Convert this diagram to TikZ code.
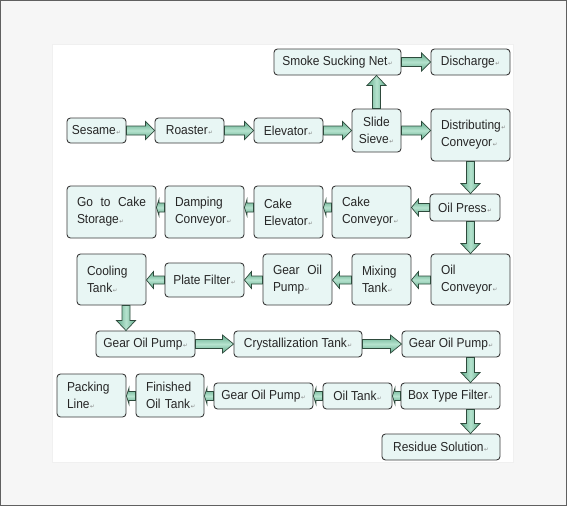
\documentclass[tikz,border=0pt]{standalone}
\usepackage{fontspec}
\setmainfont{Liberation Sans}[FakeStretch=0.92]
\newfontfamily\symfont{DejaVu Sans}
\usetikzlibrary{calc}
\definecolor{boxfill}{HTML}{E8F6F4}
\definecolor{boxline}{HTML}{3A3A3A}
\definecolor{arrdark}{HTML}{5FAA89}
\definecolor{arrlight}{HTML}{B6E3CF}
\definecolor{arrline}{HTML}{2E4A3C}
\definecolor{outbg}{HTML}{F6F6F6}
\newcommand\rt{\kern0.6pt{\symfont\fontsize{5.5}{5.5}\selectfont\textcolor{gray}{↵}}}
% horizontal block arrow: from, to, sign (+1 right / -1 left), head length, head half-width, shaft half-width
\newcommand\harrow[6]{%
  \draw[arrstyle, top color=arrdark, bottom color=arrdark, middle color=arrlight]
  let \p1=(#1), \p2=(#2) in
  (\x1,{\y1+#6}) -- ({\x2-(#3)*(#4)},{\y1+#6}) -- ({\x2-(#3)*(#4)},{\y1+#5})
  -- (\x2,\y1) -- ({\x2-(#3)*(#4)},{\y1-#5}) -- ({\x2-(#3)*(#4)},{\y1-#6})
  -- (\x1,{\y1-#6}) -- cycle;}
% vertical block arrow: from, to, sign (+1 up / -1 down), head length, head half-width, shaft half-width
\newcommand\varrow[6]{%
  \draw[arrstyle, left color=arrdark, right color=arrdark, middle color=arrlight]
  let \p1=(#1), \p2=(#2) in
  ({\x1-#6},\y1) -- ({\x1-#6},{\y2-(#3)*(#4)}) -- ({\x1-#5},{\y2-(#3)*(#4)})
  -- (\x1,\y2) -- ({\x1+#5},{\y2-(#3)*(#4)}) -- ({\x1+#6},{\y2-(#3)*(#4)})
  -- ({\x1+#6},\y1) -- cycle;}
\tikzset{
  arrstyle/.style={draw=arrline, line width=0.7pt, line join=miter},
  box/.style={draw=boxline, fill=boxfill, line width=0.9pt, rounded corners=3.5pt,
    inner sep=0pt, font=\fontsize{13}{17}\selectfont, text=black!85},
  bx/.style 2 args={box, minimum width=#1pt, minimum height=#2pt},
  ml/.style n args={3}{box, minimum width=#1pt, minimum height=#2pt,
    text width=#3pt, align=left, inner xsep=10pt},
}
\begin{document}
\begin{tikzpicture}[x=1pt,y=-1pt]
\useasboundingbox (0,0) rectangle (567,506);
\fill[outbg] (0,0) rectangle (567,506);
\fill[white] (52,44) rectangle (513,462);
\draw[gray!12] (52,44) rectangle (513,462);
\draw[gray!75!black, line width=1.2pt] (0.6,0.6) rectangle (566.4,505.4);

% row 1
\node[bx={59}{25}] (ses) at (96.5,130.5) {Sesame\rt};
\node[bx={69}{25}] (roa) at (189.5,130.5) {Roaster\rt};
\node[bx={69}{25}] (ele) at (288.5,130.5) {Elevator\rt};
\node[bx={49}{43}, align=center] (sie) at (376.5,130.5) {Slide\\Sieve\rt};
\node[bx={127}{26}] (smk) at (337.5,62) {Smoke Sucking Net\rt};
\node[bx={79}{26}] (dis) at (470.5,62) {Discharge\rt};
\node[ml={79}{52}{59}] (dcv) at (470.5,135) {\mbox{Distributing\rt}\\Conveyor\rt};

% row 2
\node[bx={70}{27}] (ops) at (465,207.5) {Oil Press\rt};
\node[ml={79}{52}{59}] (ccv) at (371.5,212) {Cake\\\mbox{Conveyor\rt}};
\node[ml={69}{52}{49}] (cel) at (288.5,212) {Cake\\\mbox{Elevator\rt}};
\node[ml={79}{52}{59}] (dmp) at (204.5,212) {Damping\\\mbox{Conveyor\rt}};
\node[ml={89}{52}{69}] (gtc) at (111.5,212) {Go\hfill to\hfill Cake\\Storage\rt};

% row 3
\node[ml={79}{51}{59}] (ocv) at (470.5,279.5) {Oil\\\mbox{Conveyor\rt}};
\node[ml={59}{51}{39}] (mix) at (381.5,279.5) {Mixing\\Tank\rt};
\node[ml={69}{51}{49}] (gp1) at (297.5,279.5) {Gear\hfill Oil\\Pump\rt};
\node[bx={79}{34}] (plf) at (204.5,280) {Plate Filter\rt};
\node[ml={69}{51}{49}] (col) at (111.5,279.5) {Cooling\\Tank\rt};

% row 4
\node[bx={99}{26}] (gp2) at (145.5,344) {Gear Oil Pump\rt};
\node[bx={128}{26}] (cry) at (298,344) {Crystallization Tank\rt};
\node[bx={98}{26}] (gp3) at (451,344) {Gear Oil Pump\rt};

% row 5
\node[bx={99}{26}] (btf) at (450.5,396) {Box Type Filter\rt};
\node[bx={69}{26}] (otk) at (357.5,396) {Oil Tank\rt};
\node[bx={99}{26}] (gp4) at (263.5,396) {Gear Oil Pump\rt};
\node[ml={68}{43}{48}] (fot) at (170,395.5) {Finished\\\mbox{Oil Tank\rt}};
\node[ml={69}{43}{49}] (pkl) at (91.5,395.5) {Packing\\Line\rt};
\node[bx={118}{26}] (res) at (441,447) {Residue Solution\rt};

% connectors row 1
\harrow{ses.east}{roa.west}{1}{9pt}{9pt}{4.5pt}
\harrow{roa.east}{ele.west}{1}{9pt}{9pt}{4.5pt}
\harrow{ele.east}{ele.east -| sie.west}{1}{9pt}{9pt}{4.5pt}
\harrow{sie.east}{sie.east -| dcv.west}{1}{9pt}{9pt}{4.5pt}
\harrow{smk.east}{dis.west}{1}{9pt}{9pt}{4.5pt}
\varrow{sie.north}{sie.north |- smk.south}{1}{10pt}{9.5pt}{4pt}
% vertical right column
\varrow{dcv.south}{dcv.south |- ops.north}{-1}{10pt}{9.5pt}{4pt}
\varrow{ops.south -| dcv.south}{ocv.north}{-1}{10pt}{9.5pt}{4pt}
% row 2
\harrow{ops.west}{ops.west -| ccv.east}{-1}{7pt}{8.5pt}{4pt}
\harrow{ccv.west |- ops.west}{ops.west -| cel.east}{-1}{2.5pt}{8pt}{4.5pt}
\harrow{cel.west |- ops.west}{ops.west -| dmp.east}{-1}{2.5pt}{8pt}{4.5pt}
\harrow{dmp.west |- ops.west}{ops.west -| gtc.east}{-1}{2.5pt}{8pt}{4.5pt}
% row 3
\harrow{ocv.west |- plf.west}{plf.west -| mix.east}{-1}{7pt}{8.5pt}{4pt}
\harrow{mix.west |- plf.west}{plf.west -| gp1.east}{-1}{7pt}{8.5pt}{4pt}
\harrow{gp1.west |- plf.east}{plf.east}{-1}{7pt}{8.5pt}{4pt}
\harrow{plf.west}{plf.west -| col.east}{-1}{7pt}{8.5pt}{4pt}
% row 4
\coordinate (cdn) at ($(col.south)+(14.5,0)$);
\varrow{cdn}{cdn |- gp2.north}{-1}{10pt}{9.5pt}{4pt}
\harrow{gp2.east}{cry.west}{1}{11pt}{9pt}{4.5pt}
\harrow{cry.east}{gp3.west}{1}{11pt}{9pt}{4.5pt}
\varrow{gp3.south -| ocv.south}{btf.north}{-1}{10pt}{9.5pt}{4pt}
% row 5
\harrow{btf.west}{otk.east}{-1}{2.5pt}{8pt}{4.5pt}
\harrow{otk.west}{gp4.east}{-1}{2.5pt}{8pt}{4.5pt}
\harrow{gp4.west}{gp4.west -| fot.east}{-1}{2.5pt}{8pt}{4.5pt}
\harrow{fot.west |- gp4.west}{gp4.west -| pkl.east}{-1}{2.5pt}{8pt}{4.5pt}
\varrow{btf.south -| ocv.south}{res.north}{-1}{10pt}{9.5pt}{4pt}
\end{tikzpicture}
\end{document}
